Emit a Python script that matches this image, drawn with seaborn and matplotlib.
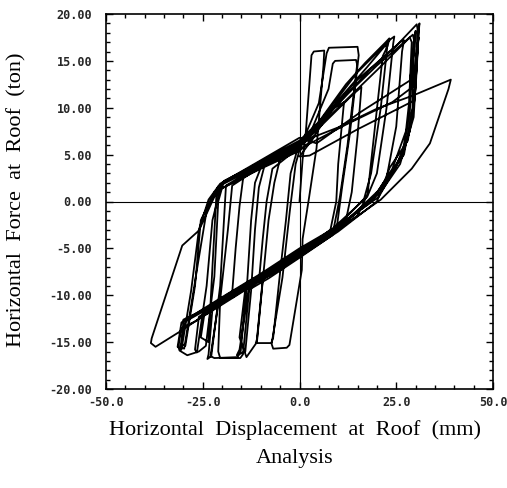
import numpy as np
import pandas as pd
import matplotlib
matplotlib.use("Agg")
import matplotlib.pyplot as plt
from matplotlib.ticker import MultipleLocator, FixedLocator
import seaborn as sns

# ---- data: roof displacement (mm) / roof force (ton), loop by loop
loop1_x = [0.0, 0.8, 1.6, 3.1, 3.7, 6.4, 6.2, 4.4, 2.5, 0.8, 0.6, -2.6, -3.3, -6.8, -7.2, -4.4, -2.5, -1.0, 0.5]
loop1_y = [0.0, 4.5, 7.2, 15.6, 16.0, 16.1, 14.5, 5.7, 0.5, -4.0, -7.3, -15.3, -15.6, -15.7, -15.2, -8.1, -1.0, 4.0, 6.2]
loop2_x = [1.8, 5.0, 7.0, 7.6, 15.0, 15.3, 13.0, 11.0, 9.5, 5.0, 0.0, -5.0, -9.5, -11.0, -11.3, -7.3, -6.8, -5.0, -3.5, -2.3, -0.5]
loop2_y = [7.4, 10.5, 15.8, 16.4, 16.5, 15.6, 7.2, 1.5, -3.2, -4.5, -5.6, -7.2, -8.3, -14.7, -15.1, -15.1, -14.5, -7.5, -2.0, 3.0, 5.6]
loop3_x = [2.5, 7.5, 8.6, 9.2, 14.6, 14.9, 12.4, 10.4, 8.5, 0.0, -8.0, -13.0, -14.6, -15.3, -20.5, -21.0, -20.5, -18.5, -17.4, -10.0, 0.0]
loop3_y = [7.0, 12.0, 14.7, 15.0, 15.1, 14.6, 6.0, 0.4, -3.6, -6.0, -8.2, -9.4, -16.3, -16.7, -16.7, -16.0, -10.5, -3.0, 1.7, 3.7, 5.9]
loop4_x = [5.0, 12.0, 17.0, 22.3, 23.2, 22.8, 21.5, 19.5, 17.6, 15.0, 8.0, 0.0, -10.0, -18.0, -22.5, -23.5, -23.8, -22.8, -20.5, -19.0, -10.0, 0.0]
loop4_y = [8.5, 12.5, 14.8, 17.0, 17.4, 16.6, 15.5, 8.0, 0.8, -1.5, -3.6, -5.7, -8.3, -10.3, -11.5, -16.3, -16.8, -16.5, -9.0, 1.7, 3.9, 6.2]
loop5_x = [6.0, 15.0, 25.0, 30.3, 30.5, 29.8, 28.0, 23.3, 20.0, 10.0, 0.0, -15.0, -27.0, -30.5, -31.3, -31.0, -29.0, -26.0, -24.2, -22.0, -21.0, -19.5, -10.0, 0.0]
loop5_y = [8.8, 13.0, 16.6, 18.9, 18.4, 11.0, 6.5, 3.6, 0.0, -3.2, -5.9, -9.7, -12.8, -13.5, -15.5, -15.9, -16.4, -16.0, -15.4, -8.0, 0.0, 2.2, 4.2, 6.3]
loop6_x = [10.0, 20.0, 29.3, 39.1, 38.5, 33.7, 29.0, 21.0, 10.0, 0.0, -15.0, -31.0, -37.2, -38.4, -38.2, -30.3, -26.0, -22.0, -20.0, -10.0, 0.0]
loop6_y = [7.9, 9.9, 11.3, 13.0, 12.0, 6.2, 3.5, 0.2, -3.0, -5.6, -9.5, -13.9, -15.5, -15.1, -14.6, -4.7, -3.1, 0.5, 1.9, 4.3, 6.5]
loop7_x = [5.0, 20.0, 29.3, 29.6, 29.2, 27.0, 22.0, 18.5, 5.0, -5.0, -20.0, -29.5, -30.8, -29.8, -26.0, -24.0, -21.0, -10.0, 0.0]
loop7_y = [8.5, 14.5, 17.8, 17.2, 10.0, 5.0, 2.0, 0.0, -4.2, -6.9, -10.6, -12.8, -15.5, -15.7, -6.0, -1.0, 1.6, 3.9, 5.6]
loop8_x = [12.0, 24.0, 29.5, 30.2, 30.8, 30.6, 29.5, 26.0, 21.0, 12.0, 0.0, -12.0, -25.0, -30.0, -30.4, -29.5, -27.0, -25.5, -22.0, -10.0, 0.0]
loop8_y = [8.2, 10.6, 12.3, 16.0, 17.5, 16.8, 9.0, 4.0, 1.0, -2.2, -5.3, -8.3, -11.6, -12.6, -15.2, -15.4, -9.0, -2.0, 1.0, 3.6, 5.8]
loop9_x = [8.0, 15.0, 22.3, 22.6, 21.0, 18.5, 16.7, 8.0, -5.0, -13.0, -15.5, -16.2, -14.0, -12.5, -11.5, -10.5, -9.0, 0.0]
loop9_y = [10.0, 13.8, 16.8, 16.2, 10.0, 3.0, 0.3, -3.4, -7.0, -9.0, -15.8, -16.4, -16.0, -9.5, -3.0, 1.5, 3.9, 6.0]
loop10_x = [9.0, 11.5, 10.0, 9.5, 8.0, 0.0, -8.0, -10.5, -9.5, -8.5, -7.0, 0.0]
loop10_y = [10.0, 10.6, 4.0, 0.0, -3.0, -5.5, -7.8, -8.6, -4.0, 0.0, 3.5, 5.8]
loop11_x = [14.0, 16.0, 15.0, 13.5, 12.0, 0.0, -15.0, -17.5, -16.5, -15.5, -14.5, 0.0]
loop11_y = [11.5, 12.2, 7.0, 1.0, -2.0, -5.7, -9.6, -10.3, -5.0, -0.5, 2.7, 6.1]
loop12_x = [8.0, 18.0, 26.0, 27.0, 26.5, 25.0, 22.5, 19.0, 10.0, 0.0, -10.0, -20.0, -24.5, -25.5, -23.5, -22.5, -21.5, -20.0, -10.0, 0.0, 4.0]
loop12_y = [9.5, 14.0, 17.0, 17.2, 16.0, 8.0, 2.5, 0.3, -2.8, -5.4, -8.0, -10.4, -11.8, -14.5, -15.0, -7.0, 0.5, 2.0, 4.0, 6.0, 7.0]
loop13_x = [0.0, 2.6, 15.0, 29.3, 30.0, 30.8, 31.0, 30.8, 30.0, 28.5, 25.0, 20.5, 10.0, 0.0, -10.0, -20.0, -30.5, -31.5, -30.5, -28.0, -26.0, -23.5, -20.5, -10.0, 0.0]
loop13_y = [4.8, 4.9, 7.7, 10.7, 12.5, 18.5, 19.0, 18.0, 12.0, 7.5, 3.8, 0.5, -2.6, -5.0, -7.7, -10.2, -12.9, -15.5, -15.8, -9.5, -3.0, 0.2, 1.9, 4.4, 6.8]
loop14_x = [4.4, 16.0, 28.5, 29.8, 30.0, 29.5, 28.5, 26.5, 21.5, 10.0, 0.0, -12.0, -22.0, -26.0, -27.0, -26.5, -24.0, -22.5, -20.5, -10.0, 0.0]
loop14_y = [6.2, 9.6, 12.9, 16.5, 18.2, 17.0, 9.5, 5.0, 1.6, -2.9, -5.6, -8.8, -11.3, -12.3, -15.8, -16.1, -9.0, -2.0, 1.3, 3.5, 5.4]
loop15_x = [3.0, 10.0, 17.4, 23.5, 24.5, 24.2, 22.5, 20.0, 17.5, 8.0, 0.0, -9.0, -14.0, -15.5, -13.7, -11.0, -9.5, -8.0, -6.5, -5.0, 0.0]
loop15_y = [6.5, 10.8, 14.3, 17.3, 17.6, 16.8, 10.0, 3.0, 0.5, -3.1, -5.4, -7.6, -9.3, -14.5, -16.6, -15.0, -8.5, -2.0, 2.0, 4.6, 6.0]
loop16_x = [8.0, 20.0, 28.5, 29.0, 28.3, 27.5, 24.0, 19.5, 10.0, 0.0, -10.0, -19.0, -21.0, -23.0, -22.0, -16.0, -15.2, -13.5, -12.5, -11.5, -10.0, 0.0]
loop16_y = [9.2, 14.0, 17.5, 17.0, 10.5, 7.5, 3.5, 0.6, -2.7, -5.2, -8.0, -10.0, -11.0, -16.5, -16.7, -16.6, -16.0, -8.5, -2.0, 2.0, 3.6, 5.6]

x_ticks = [-50.0, -25.0, 0.0, 25.0, 50.0]
y_ticks = [-20.0, -15.0, -10.0, -5.0, 0.0, 5.0, 10.0, 15.0, 20.0]
x_label = "Horizontal  Displacement  at  Roof  (mm)"
sub_label = "Analysis"
y_label = "Horizontal  Force  at  Roof  (ton)"

loops_x = [loop1_x, loop2_x, loop3_x, loop4_x, loop5_x, loop6_x, loop7_x, loop8_x,
           loop9_x, loop10_x, loop11_x, loop12_x, loop13_x, loop14_x, loop15_x, loop16_x]
loops_y = [loop1_y, loop2_y, loop3_y, loop4_y, loop5_y, loop6_y, loop7_y, loop8_y,
           loop9_y, loop10_y, loop11_y, loop12_y, loop13_y, loop14_y, loop15_y, loop16_y]
df = pd.DataFrame({
    "disp": np.concatenate(loops_x),
    "force": np.concatenate(loops_y),
})

sns.set_theme(style="white")
plt.rcParams["axes.unicode_minus"] = False
plt.rcParams["font.family"] = ["DejaVu Sans"]

fig = plt.figure(figsize=(5.07, 4.88), dpi=100)
ax = fig.add_axes([106/507, 1 - 389/488, (493-106)/507, (389-14)/488])

ax.axhline(0, color="black", lw=0.8, zorder=1)
ax.axvline(0, color="black", lw=0.8, zorder=1)
sns.lineplot(data=df, x="disp", y="force", sort=False, estimator=None,
             color="black", lw=1.3, ax=ax, zorder=2)

ax.set_xlim(-50, 50)
ax.set_ylim(-20, 20)
ax.xaxis.set_major_locator(FixedLocator(x_ticks))
ax.yaxis.set_major_locator(FixedLocator(y_ticks))
ax.xaxis.set_minor_locator(MultipleLocator(5))
ax.yaxis.set_minor_locator(MultipleLocator(1))
ax.set_xticklabels([f"{v:.1f}" for v in x_ticks], family="DejaVu Sans Mono",
                   fontsize=8.5, fontweight="bold")
ax.set_yticklabels([f"{v:.2f}" for v in y_ticks], family="DejaVu Sans Mono",
                   fontsize=8.5, fontweight="bold")
ax.tick_params(which="both", direction="in", top=True, right=True, bottom=True, left=True,
               color="black", width=1.0)
ax.tick_params(which="major", length=5)
ax.tick_params(which="minor", length=3)
ax.tick_params(axis="y", which="major", pad=10)
ax.tick_params(axis="x", which="major", pad=5)
for s in ax.spines.values():
    s.set_color("black")
    s.set_linewidth(1.2)
ax.set_xlabel("")
ax.set_ylabel("")

fig.text(295/507, 1 - 430/488, x_label, ha="center", va="center",
         family="Liberation Serif", fontsize=16, color="black")
fig.text(295/507, 1 - 458/488, sub_label, ha="center", va="center",
         family="Liberation Serif", fontsize=16, color="black")
fig.text(17/507, 1 - 200/488, y_label, ha="center", va="center", rotation=90,
         family="Liberation Serif", fontsize=16, color="black")

fig.savefig("out.png", dpi=100, facecolor="white")
